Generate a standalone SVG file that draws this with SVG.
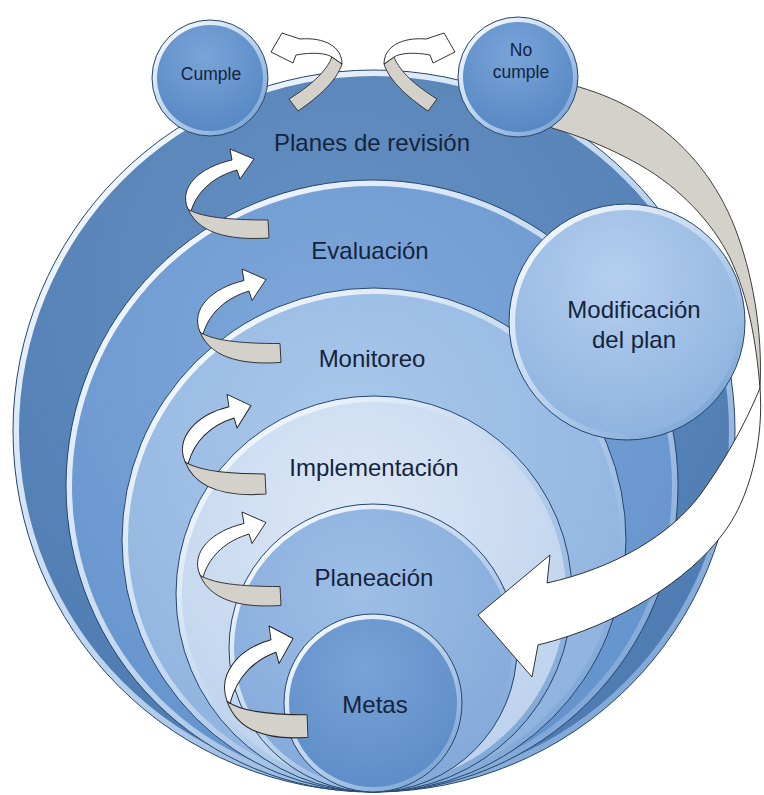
<svg xmlns="http://www.w3.org/2000/svg" xmlns:xlink="http://www.w3.org/1999/xlink" width="764" height="795" viewBox="0 0 764 795">
<defs>
<style>
.edge{stroke:#23456e;stroke-width:1;fill:url(#rim)}
.lbl{font-family:"Liberation Sans",Arial,sans-serif;fill:#14243c;text-anchor:middle}
.big{font-size:24px}
.small{font-size:17.5px}
.back{fill:#d4d0ca;stroke:#2a2a2a;stroke-width:0.9;stroke-linejoin:round}
.front{fill:#ffffff;stroke:#1e1e1e;stroke-width:0.9;stroke-linejoin:round}
</style>
<linearGradient id="rim" x1="0.15" y1="0.1" x2="0.85" y2="0.9">
<stop offset="0" stop-color="#f2f7fc"/>
<stop offset="0.5" stop-color="#bcd3ee"/>
<stop offset="1" stop-color="#7ea6d6"/>
</linearGradient>
<radialGradient id="g1" cx="0.45" cy="0.3" r="0.8"><stop offset="0" stop-color="#6791c4"/><stop offset="1" stop-color="#4a78ae"/></radialGradient>
<radialGradient id="g2" cx="0.45" cy="0.3" r="0.8"><stop offset="0" stop-color="#80a9db"/><stop offset="1" stop-color="#6190ca"/></radialGradient>
<radialGradient id="g3" cx="0.45" cy="0.3" r="0.8"><stop offset="0" stop-color="#aac8eb"/><stop offset="1" stop-color="#8bb0dd"/></radialGradient>
<radialGradient id="g4" cx="0.45" cy="0.3" r="0.8"><stop offset="0" stop-color="#dde8f6"/><stop offset="1" stop-color="#b9cfec"/></radialGradient>
<radialGradient id="g5" cx="0.45" cy="0.3" r="0.8"><stop offset="0" stop-color="#9ebee6"/><stop offset="1" stop-color="#80a7d9"/></radialGradient>
<radialGradient id="g6" cx="0.45" cy="0.3" r="0.8"><stop offset="0" stop-color="#79a3d7"/><stop offset="1" stop-color="#5a8ac5"/></radialGradient>
<radialGradient id="gm" cx="0.45" cy="0.3" r="0.8"><stop offset="0" stop-color="#b6cfee"/><stop offset="1" stop-color="#8ab0de"/></radialGradient>
<radialGradient id="gs" cx="0.45" cy="0.3" r="0.8"><stop offset="0" stop-color="#79a4d8"/><stop offset="1" stop-color="#5385c1"/></radialGradient>
<g id="curl">
<path class="back" d="M0,-9 L1,9 C-30,11 -68,8 -80,-20 C-68,-12 -40,-9 0,-9 Z"/>
<path class="front" d="M-80,-20 C-90,-42 -68,-62 -36,-69 L-38,-80 L-14,-70 L-28,-50 L-31,-59 C-52,-53 -70,-40 -77,-18 Z"/>
</g>
<g id="topcurl">
<path class="back" d="M289,99 L298,111 C320,96 337,80 342,64 L332,57 C326,72 310,86 289,99 Z"/>
<path class="front" d="M342,64 C342,47 325,37 300,39 L282,33 L271,52 L293,63 L296,55 C312,52 326,53 332,57 Z"/>
</g>
</defs>
<rect width="764" height="795" fill="#ffffff"/>

<g id="planes">
<circle class="edge" cx="374" cy="431" r="361"/>
<circle cx="374" cy="431" r="355" fill="url(#g1)"/>
<text class="lbl big" x="372" y="151">Planes de revisión</text>
</g>
<g id="evaluacion">
<circle class="edge" cx="372" cy="486" r="306"/>
<circle cx="372" cy="486" r="300" fill="url(#g2)"/>
<text class="lbl big" x="370" y="259">Evaluación</text>
</g>
<g id="monitoreo">
<circle class="edge" cx="374" cy="540" r="252"/>
<circle cx="374" cy="540" r="246" fill="url(#g3)"/>
<text class="lbl big" x="372" y="367">Monitoreo</text>
</g>
<g id="implementacion">
<circle class="edge" cx="374" cy="594" r="198"/>
<circle cx="374" cy="594" r="192" fill="url(#g4)"/>
<text class="lbl big" x="374" y="476">Implementación</text>
</g>
<g id="planeacion">
<circle class="edge" cx="373" cy="648" r="144"/>
<circle cx="373" cy="648" r="139" fill="url(#g5)"/>
<text class="lbl big" x="374" y="586">Planeación</text>
</g>
<g id="metas">
<circle class="edge" cx="373" cy="703" r="89"/>
<circle cx="373" cy="703" r="84" fill="url(#g6)"/>
<text class="lbl big" x="375" y="713">Metas</text>
</g>

<g id="connectors">
<path class="back" d="M530,78 C620,86 700,138 735,228 C752,272 763,330 760,388 C756,340 748,296 730,258 C712,222 680,188 640,165 C610,148 580,136 552,128 Z"/>
<path class="front" d="M760,388 C764,440 750,500 722,535 C690,578 620,625 538,645 L532,677 L478,615 L550,555 L547,583 C615,568 670,535 700,495 C722,465 745,425 760,388 Z"/>
<use xlink:href="#curl" href="#curl" transform="translate(268,229)"/>
<use xlink:href="#curl" href="#curl" transform="translate(280,353) scale(1,1.05)"/>
<use xlink:href="#curl" href="#curl" transform="translate(265,484) scale(1,1.12)"/>
<use xlink:href="#curl" href="#curl" transform="translate(280,596) scale(1,1.05)"/>
<use xlink:href="#curl" href="#curl" transform="translate(307,726) scale(1,1.25)"/>
<use xlink:href="#topcurl" href="#topcurl"/>
<use xlink:href="#topcurl" href="#topcurl" transform="matrix(-1 0 0 1 726 0)"/>
</g>

<g id="modificacion">
<circle class="edge" cx="627" cy="322" r="118"/>
<circle cx="627" cy="322" r="112" fill="url(#gm)"/>
<text class="lbl big" x="634" y="318">Modificación</text>
<text class="lbl big" x="634" y="348">del plan</text>
</g>
<g id="cumple">
<circle class="edge" cx="210" cy="78" r="58"/>
<circle cx="210" cy="78" r="53" fill="url(#gs)"/>
<text class="lbl small" x="211" y="80">Cumple</text>
</g>
<g id="nocumple">
<circle class="edge" cx="518" cy="77" r="60"/>
<circle cx="518" cy="77" r="55" fill="url(#gs)"/>
<text class="lbl small" x="521" y="56">No</text>
<text class="lbl small" x="521" y="78">cumple</text>
</g>
</svg>
